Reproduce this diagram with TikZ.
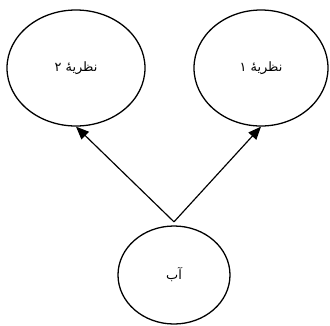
\documentclass[tikz,border=0pt]{standalone}
\usepackage{fontspec}
\TeXXeTstate=1
\newfontfamily\arabicfont[Script=Arabic]{DejaVu Sans}
\usetikzlibrary{arrows.meta,shapes.geometric}
\tikzset{
  nazar/.style={draw, ellipse, line width=1.1pt, inner sep=0pt,
    font=\arabicfont\fontsize{11}{13}\selectfont},
  payan/.style={line width=1pt, -{Triangle[length=11pt,width=9pt]}}
}

\begin{document}
\begin{tikzpicture}[x=0.03cm,y=-0.03cm]
\useasboundingbox (0,0) rectangle (330,325);

\node[nazar, minimum width=4.14cm, minimum height=3.48cm] (nazar2) at (76,68)
  {\beginR نظریهٔ ۲\endR};
\node[nazar, minimum width=4.02cm, minimum height=3.48cm] (nazar1) at (261,68)
  {\beginR نظریهٔ ۱\endR};
\node[nazar, minimum width=3.36cm, minimum height=2.94cm] (ab) at (174,275)
  {\beginR آب\endR};

\coordinate (apex) at ([yshift=3pt]ab.north);

\draw[payan] (apex) -- (nazar2.south);
\draw[payan] (apex) -- (nazar1.south);

\end{tikzpicture}
\end{document}
